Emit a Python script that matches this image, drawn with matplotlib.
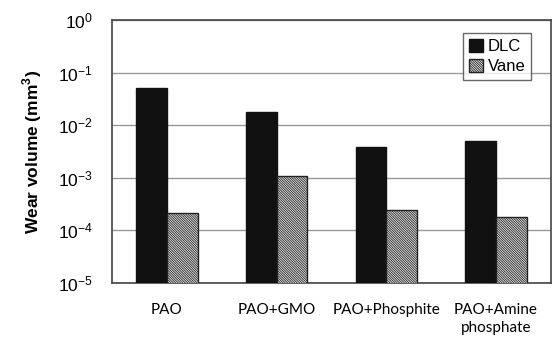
import matplotlib
matplotlib.use("Agg")
import matplotlib.pyplot as plt
import numpy as np

# valores
categorias = ["PAO", "PAO+GMO", "PAO+Phosphite", "PAO+Amine\nphosphate"]
dlc = [0.05, 0.018, 0.0038, 0.005]
vane = [2.1e-4, 1.1e-3, 2.4e-4, 1.8e-4]

plt.rcParams['font.family'] = ['Liberation Sans', 'DejaVu Sans']
plt.rcParams['hatch.linewidth'] = 0.6
plt.rcParams['hatch.color'] = '#666666'

fig = plt.figure(figsize=(5.52, 3.37), dpi=100)
ax = fig.add_axes([0.203, 0.16, 0.795, 0.781])

x = np.arange(len(categorias))
ancho = 0.28
ax.bar(x - ancho / 2, dlc, ancho, color='#111111', edgecolor='#111111', linewidth=1, label='DLC', zorder=3)
ax.bar(x + ancho / 2, vane, ancho, color='#eeeeee', edgecolor='#222222', hatch='\\' * 14, linewidth=1, label='Vane', zorder=3)

ax.set_yscale('log')
ax.set_ylim(1e-5, 1)
ax.set_xlim(-0.5, 3.5)
ax.set_yticks([1e-5, 1e-4, 1e-3, 1e-2, 1e-1, 1])
ax.set_yticklabels(['$\\mathregular{10^{-5}}$', '$\\mathregular{10^{-4}}$', '$\\mathregular{10^{-3}}$',
                    '$\\mathregular{10^{-2}}$', '$\\mathregular{10^{-1}}$', '$\\mathregular{10^{0}}$'], fontsize=12.5)
ax.minorticks_off()
ax.tick_params(axis='y', length=0, pad=14)
ax.tick_params(axis='x', length=0, pad=14)
ax.set_xticks(x)
ax.set_xticklabels(categorias, fontsize=11, family=['Lato', 'DejaVu Sans'], linespacing=1.4)
ax.yaxis.grid(True, color='#999999', linewidth=1, zorder=0)
for s in ax.spines.values():
    s.set_color('#444444')
    s.set_linewidth(1.2)

ax.set_ylabel('Wear volume (mm$^\\mathregular{3}$)', fontsize=12.5, fontweight='bold', labelpad=10)

leg = ax.legend(loc='upper right', bbox_to_anchor=(0.955, 0.95), fontsize=12, frameon=True, fancybox=False,
                handlelength=0.8, handleheight=0.8, handletextpad=0.3, borderpad=0.35, labelspacing=0.3,
                borderaxespad=0)
leg.get_frame().set_edgecolor('#444444')
leg.get_frame().set_linewidth(1)

fig.savefig('out.png', dpi=100)
